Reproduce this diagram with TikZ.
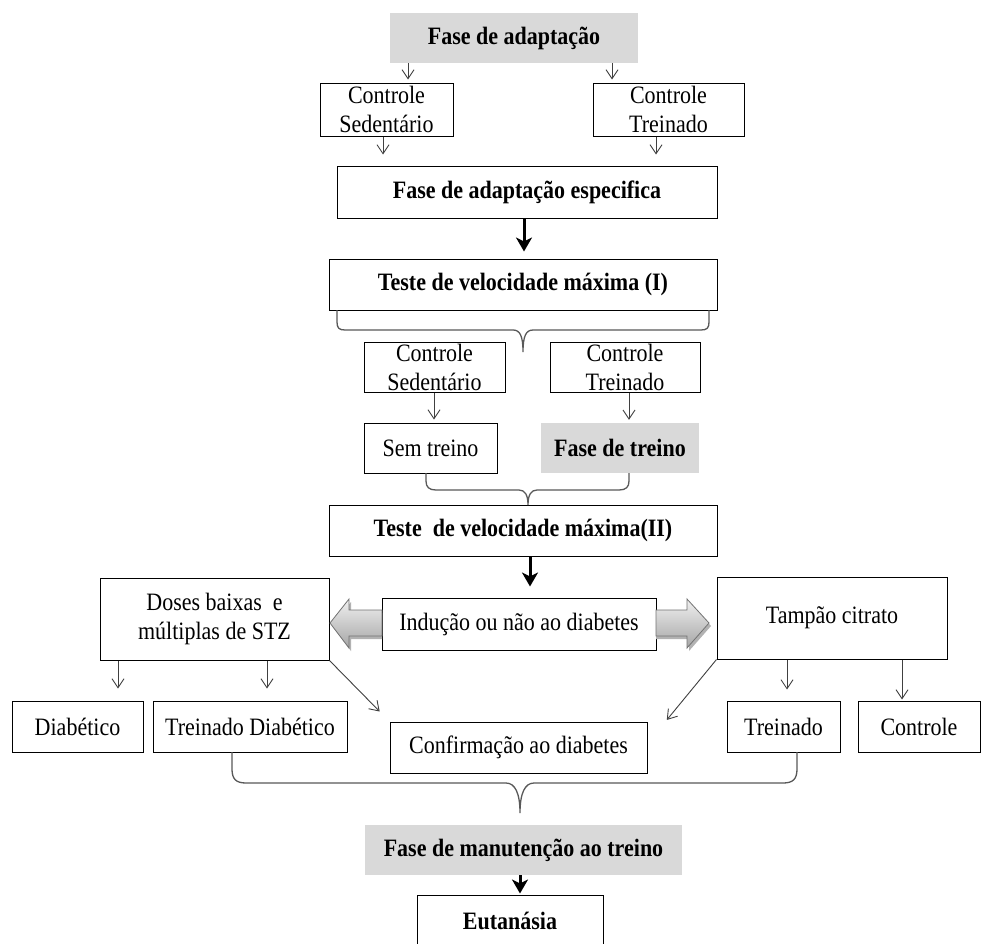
\documentclass[tikz,border=0pt]{standalone}
\usepackage{fontspec}
\setmainfont[FakeStretch=0.88]{Liberation Serif}
\usetikzlibrary{arrows.meta}
\begin{document}
\begin{tikzpicture}[x=1pt,y=-1pt,
  box/.style={draw=black, line width=1pt, fill=white, inner sep=0pt, align=center, font=\fontsize{25}{29}\selectfont},
  bbox/.style={box, font=\fontsize{25}{29}\selectfont\bfseries},
  gbox/.style={fill=black!15, inner sep=0pt, align=center, font=\fontsize{25}{29}\selectfont\bfseries},
  thinarrow/.style={draw=black!75, line width=0.9pt, -{Straight Barb[length=9pt,width=12pt]}},
  thickarrow/.style={draw=black, line width=3pt, -{Stealth[length=14pt,width=16pt,inset=4pt]}},
  bracepath/.style={draw=black!65, line width=1.3pt},
  blockarrow/.style={draw=black!55, line width=0.8pt, top color=black!6, bottom color=black!35},
  blockshadow/.style={fill=black!30}
]
\useasboundingbox (0,0) rectangle (983,943);
\clip (0,0) rectangle (983,943);
\fill[white] (0,0) rectangle (983,943);

% nodes
\node[gbox, minimum width=248pt, minimum height=50pt] (fa) at (514,38) {Fase de adaptação};
\node[box, minimum width=133pt, minimum height=53pt] (cs1) at (386.5,109.5) {Controle\\Sedentário};
\node[box, minimum width=151pt, minimum height=53pt] (ct1) at (668.5,109.5) {Controle\\Treinado};
\node[bbox, minimum width=380pt, minimum height=52pt] (fae) at (527,192) {Fase de adaptação especifica};
\node[bbox, minimum width=388pt, minimum height=51pt] (tv1) at (523,284.5) {Teste de velocidade máxima (I)};
\node[box, minimum width=141pt, minimum height=50pt] (cs2) at (434.5,367) {Controle\\Sedentário};
\node[box, minimum width=150pt, minimum height=50pt] (ct2) at (625,367) {Controle\\Treinado};
\node[box, minimum width=133pt, minimum height=50pt] (st) at (430.5,448) {Sem treino};
\node[gbox, minimum width=158pt, minimum height=50pt] (ft) at (620,448) {Fase de treino};
\node[bbox, minimum width=388pt, minimum height=51pt] (tv2) at (523,530.5) {Teste~ de velocidade máxima(II)};
\node[box, minimum width=229pt, minimum height=82pt] (doses) at (214.5,619) {Doses baixas~ e\\múltiplas de STZ};
\node[box, minimum width=274pt, minimum height=52pt] (ind) at (519,624) {Indução ou não ao diabetes};
\node[box, minimum width=230pt, minimum height=82pt] (tamp) at (832,618) {Tampão citrato};
\node[box, minimum width=131pt, minimum height=51pt] (diab) at (77.5,726.5) {Diabético};
\node[box, minimum width=194pt, minimum height=51pt] (trd) at (250,726.5) {Treinado Diabético};
\node[box, minimum width=257pt, minimum height=51pt] (conf) at (518.5,747.5) {Confirmação ao diabetes};
\node[box, minimum width=113pt, minimum height=51pt] (tr) at (783.5,726.5) {Treinado};
\node[box, minimum width=122pt, minimum height=51pt] (ctrl) at (919,726.5) {Controle};
\node[gbox, minimum width=317pt, minimum height=50pt] (fmt) at (523.5,850) {Fase de manutenção ao treino};
\node[bbox, minimum width=186pt, minimum height=52pt] (eut) at (510,921) {Eutanásia};

% thin arrows
\draw[thinarrow, shorten >=3pt] ([xshift=-106pt]fa.south) -- ([xshift=21.5pt]cs1.north);
\draw[thinarrow, shorten >=3pt] ([xshift=98pt]fa.south) -- ([xshift=-56.5pt]ct1.north);
\draw[thinarrow, shorten >=11pt] ([xshift=-3.5pt]cs1.south) -- ([xshift=-144pt]fae.north);
\draw[thinarrow, shorten >=11pt] ([xshift=-12.5pt]ct1.south) -- ([xshift=129pt]fae.north);
\draw[thinarrow, shorten >=3pt] ([xshift=-0.5pt]cs2.south) -- ([xshift=3.5pt]st.north);
\draw[thinarrow, shorten >=3pt] ([xshift=4pt]ct2.south) -- ([xshift=9pt]ft.north);
\draw[thinarrow, shorten >=12pt] ([xshift=-96.5pt]doses.south) -- ([xshift=40.5pt]diab.north);
\draw[thinarrow, shorten >=12pt] ([xshift=52.5pt]doses.south) -- ([xshift=17pt]trd.north);
\draw[thinarrow, shorten >=14pt] (doses.south east) -- (conf.north west);
\draw[thinarrow, shorten >=2pt] (tamp.south west) -- ([xshift=18pt]conf.north east);
\draw[thinarrow, shorten >=11pt] ([xshift=-45pt]tamp.south) -- ([xshift=3.5pt]tr.north);
\draw[thinarrow, shorten >=1pt] ([xshift=70pt]tamp.south) -- ([xshift=-17pt]ctrl.north);

% thick arrows
\draw[thickarrow, shorten >=7pt] ([xshift=-3pt]fae.south) -- ([xshift=1pt]tv1.north);
\draw[thickarrow, shorten >=11pt] ([xshift=7pt]tv2.south) -- ([xshift=11pt]ind.north);
\draw[thickarrow, shorten >=1pt] ([xshift=-3.5pt]fmt.south) -- ([xshift=10pt]eut.north);

% block arrows
\fill[blockshadow] (332,626) -- (351,602) -- (351,613) -- (382,613) -- (382,639) -- (351,639) -- (351,651) -- cycle;
\path[blockarrow] (330,623) -- (349,599) -- (349,610) -- (382,610) -- (382,636) -- (349,636) -- (349,648) -- cycle;
\fill[blockshadow] (656,613) -- (689,613) -- (689,602) -- (711,626) -- (689,651) -- (689,639) -- (656,639) -- cycle;
\path[blockarrow] (656,610) -- (687,610) -- (687,599) -- (709,623) -- (687,648) -- (687,636) -- (656,636) -- cycle;

% braces
\draw[bracepath] (337,310) -- (337,322) .. controls (337,328) and (339,330) .. (345,330) -- (513,330)
  .. controls (520,330) and (523,336) .. (523,352)
  .. controls (523,336) and (526,330) .. (533,330) -- (701,330)
  .. controls (707,330) and (709,328) .. (709,322) -- (709,310);
\draw[bracepath] (426,473) -- (426,481) .. controls (426,487) and (429,490) .. (436,490) -- (519,490)
  .. controls (525,490) and (528,495) .. (528,505)
  .. controls (528,495) and (531,490) .. (537,490) -- (619,490)
  .. controls (626,490) and (629,487) .. (629,481) -- (629,473);
\draw[bracepath] (232,752) -- (232,769) .. controls (232,779) and (236,783) .. (246,783) -- (506,783)
  .. controls (515,783) and (520,793) .. (520,813)
  .. controls (520,793) and (525,783) .. (534,783) -- (783,783)
  .. controls (793,783) and (797,779) .. (797,769) -- (797,752);
\end{tikzpicture}
\end{document}
